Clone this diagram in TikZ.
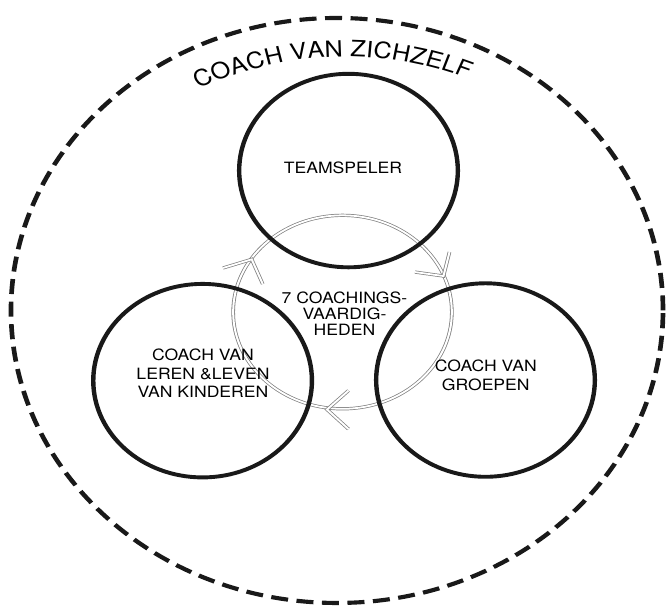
\documentclass[tikz,border=0pt]{standalone}
\usepackage{fontspec}
\setmainfont{TeX Gyre Heros}
\usetikzlibrary{shapes.geometric,decorations.text,calc}
\begin{document}
\begin{tikzpicture}[x=0.75pt,y=0.75pt,
  ring/.style={circle, draw=black!90, line width=3.3pt, minimum size=164pt, inner sep=0pt},
  outerring/.style={ellipse, draw=black!90, line width=3.5pt, dash pattern=on 12.75pt off 6.4pt, minimum width=489pt, minimum height=495.75pt, inner sep=0pt},
  cyc/.style={draw=black!50, line width=0.6pt, double=white, double distance=1.5pt},
  lbl/.style={align=center, text=black, font=\fontsize{13.2}{15.5}\selectfont, inner sep=0pt}]
\useasboundingbox (0,0) rectangle (669,609);
\begin{scope}[transform canvas={yscale=0.885}]
  % outer dashed boundary
  \node[outerring] (outer) at (337,337.3) {};
  % title along arc
  \coordinate (tc) at (345,312);
  \path[decorate, decoration={text along path,
      text={|\fontsize{19}{22}\selectfont|COACH VAN ZICHZELF},
      text color=black, text align={fit to path}}]
    (tc) ++(118:312) arc[start angle=118, end angle=67.5, radius=312];
  % central cycle
  \node[circle, cyc, minimum size=164pt, inner sep=0pt] (mid) at (342.5,335.5) {};
  \coordinate (tipl) at (251.7,395.1);
  \coordinate (tipr) at (443.5,376.2);
  \coordinate (tipb) at (327,225.4);
  \draw[cyc] ($(tipl)+(-28.7,-9.8)$) -- (tipl) -- ($(tipl)+(11,-27.9)$);
  \draw[cyc] ($(tipr)+(-28.5,4.5)$) -- (tipr) -- ($(tipr)+(6,27.1)$);
  \draw[cyc] ($(tipb)+(21.5,21.4)$) -- (tipb) -- ($(tipb)+(21.5,-22.1)$);
  % three rings
  \node[ring] (top) at (348.5,495.4) {};
  \node[ring] (left) at (202.6,258) {};
  \node[ring] (right) at (485.5,258.7) {};
  % labels
  \node[lbl] (topl) at (343,498.5) {TEAMSPELER};
  \node[lbl, font=\fontsize{13.2}{13.6}\selectfont] (midl) at (344.5,334.1) {7 COACHINGS-\\VAARDIG-\\HEDEN};
  \node[lbl] (leftl) at (203,266.3) {COACH VAN\\LEREN \&LEVEN\\VAN KINDEREN};
  \node[lbl, font=\fontsize{13.2}{16}\selectfont] (rightl) at (485.8,263.8) {COACH VAN\\GROEPEN};
\end{scope}
\end{tikzpicture}
\end{document}
